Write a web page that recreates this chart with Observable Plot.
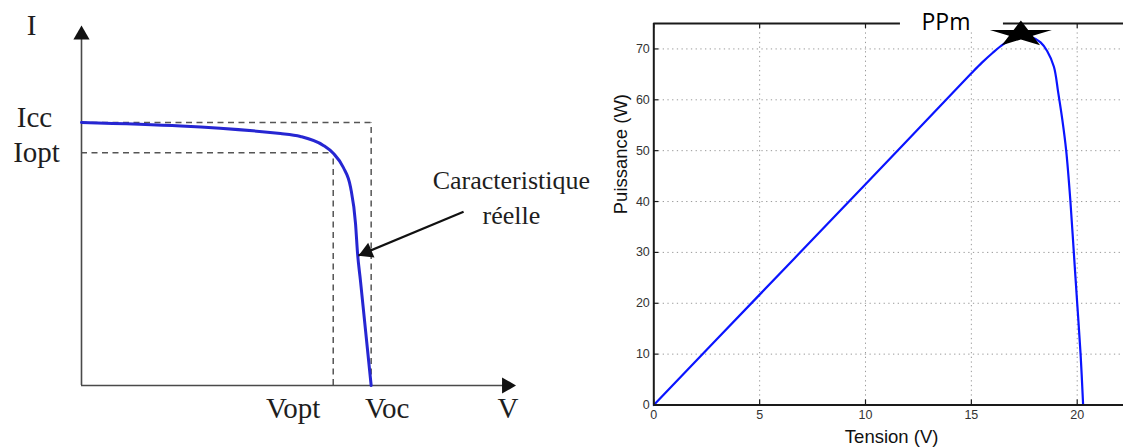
<!DOCTYPE html>
<html><head><meta charset="utf-8">
<script src="https://cdn.jsdelivr.net/npm/d3@7"></script>
<script src="https://cdn.jsdelivr.net/npm/@observablehq/plot@0.6"></script>
<style>
html,body{margin:0;padding:0;background:#fff;overflow:hidden}
#wrap{position:relative;width:1123px;height:447px;overflow:hidden;background:#fff}
#left{position:absolute;left:0;top:0}
#right{position:absolute;left:600px;top:0}
</style></head><body><div id="wrap"><div id="left"></div><div id="right"></div></div>
<script>
// ---------- Left panel: schematic I-V characteristic (normalised: Voc = 1, Icc = 1)
const ivV = [0, 0.687, 0.756, 0.835, 0.870, 0.904, 0.929, 0.946, 0.953, 0.963, 1.0];
const ivI = [1.0, 0.958, 0.947, 0.913, 0.882, 0.829, 0.753, 0.616, 0.502, 0.399, 0];
const Voc = 1, Icc = 1, Vopt = 0.869, Iopt = 0.885;
const vAxisMax = 1.5, iAxisMax = 1.369;
const annotationText = "Caracteristique\nréelle";
const annotation = {text: annotationText, x: 1.484, y: 0.724, tailX: 1.319, tailY: 0.661, tipX: 0.956, tipY: 0.494};

// ---------- Right panel: P-V curve
const tension   = [0, 5, 10, 15, 15.5, 16, 16.5, 17, 17.4, 17.8, 18.27, 18.58, 18.9, 19.1, 19.3, 19.48, 19.68, 19.84, 20.0, 20.16, 20.28];
const puissance = [0, 21.7, 43.4, 65.2, 67.3, 69.2, 70.9, 72.1, 72.6, 72.4, 71.3, 69.6, 66.5, 61.5, 56, 50, 40, 30, 20, 10, 0];
const xTicks = [0, 5, 10, 15, 20];
const yTicks = [0, 10, 20, 30, 40, 50, 60, 70];
const ppm = {label: "PPm", v: 17.34, p: 72.9, labelV: 13.8};
const xLabel = "Tension (V)", yLabel = "Puissance (W)";

// ---------------- left plot
const ivData = ivV.map((v, k) => ({v, i: ivI[k]}));
const serif = "'Liberation Serif', 'Times New Roman', serif";
const txt = "#1e1e1e";
const dash = {stroke: "#555", strokeDasharray: "6,4.5", strokeWidth: 1.5};
const lblSize = 29;

const left = Plot.plot({
  width: 600, height: 447,
  marginLeft: 81, marginRight: 84.5, marginTop: 25, marginBottom: 62,
  x: {domain: [0, vAxisMax], axis: null},
  y: {domain: [0, iAxisMax], axis: null},
  style: {background: "white", overflow: "visible"},
  marks: [
    Plot.ruleY([Icc], {x1: 0, x2: Voc, ...dash}),
    Plot.ruleY([Iopt], {x1: 0, x2: Vopt, ...dash}),
    Plot.ruleX([Vopt], {y1: 0, y2: Iopt, ...dash}),
    Plot.ruleX([Voc], {y1: 0, y2: Icc, ...dash}),
    Plot.ruleX([0], {y1: 0, y2: iAxisMax * 0.97, stroke: "#4a4a4a", strokeWidth: 1.6}),
    Plot.ruleY([0], {x1: 0, x2: vAxisMax * 0.98, stroke: "#4a4a4a", strokeWidth: 1.6}),
    Plot.dot([{v: 0, i: iAxisMax}], {x: "v", y: "i", symbol: "triangle", r: 6, fill: "#111", stroke: "none", dy: 9.3}),
    Plot.dot([{v: vAxisMax, i: 0}], {x: "v", y: "i", symbol: "triangle", r: 6, fill: "#111", stroke: "none", rotate: 90, dx: -9.3}),
    Plot.line(ivData, {x: "v", y: "i", stroke: "#2626d2", strokeWidth: 3, curve: "monotone-x"}),
    Plot.link([annotation], {x1: "tailX", y1: "tailY", x2: "tipX", y2: "tipY", stroke: "#111", strokeWidth: 2.2}),
    Plot.dot([annotation], {x: "tipX", y: "tipY", symbol: "triangle", r: 6, fill: "#111", stroke: "none", rotate: -113, dx: 8.6, dy: -3.6}),
    Plot.text([annotation], {x: "x", y: "y", text: "text", fontFamily: serif, fontSize: 26, fill: txt, lineHeight: 1.35}),
    Plot.text(["I"], {x: 0, y: iAxisMax, text: d => d, dx: -50, fontFamily: serif, fontSize: lblSize, fill: txt}),
    Plot.text(["Icc"], {x: 0, y: Icc, text: d => d, dx: -47, dy: -5, fontFamily: serif, fontSize: lblSize, fill: txt}),
    Plot.text(["Iopt"], {x: 0, y: Iopt, text: d => d, dx: -45, fontFamily: serif, fontSize: lblSize, fill: txt}),
    Plot.text(["Vopt"], {x: Vopt, y: 0, text: d => d, dx: -40, dy: 23, fontFamily: serif, fontSize: lblSize, fill: txt}),
    Plot.text(["Voc"], {x: Voc, y: 0, text: d => d, dx: 16, dy: 23, fontFamily: serif, fontSize: lblSize, fill: txt}),
    Plot.text(["V"], {x: vAxisMax, y: 0, text: d => d, dx: -8, dy: 23, fontFamily: serif, fontSize: lblSize, fill: txt})
  ]
});
document.getElementById("left").appendChild(left);

// ---------------- right plot
const pvData = tension.map((v, k) => ({v, p: puissance[k]}));
const W = 523, H = 447, mL = 53.3, mR = 0, mT = 23, mB = 42.5;
const fw = W - mL - mR, fh = H - mT - mB;
const xMax = fw / 21.17;
const frameStyle = {stroke: "#1a1a1a", strokeWidth: 2};
const tickStyle = {stroke: "#1a1a1a", strokeWidth: 1.2};
const grid = {stroke: "#9a9a9a", strokeOpacity: 1, strokeWidth: 1, strokeDasharray: "1.3,3.4"};
const sans = "'Liberation Sans', Arial, Helvetica, sans-serif";

const flatStar = {
  draw(ctx, size) {
    const R = Math.sqrt(size);
    for (let k = 0; k < 10; k++) {
      const a = -Math.PI / 2 + k * Math.PI / 5;
      const rad = k % 2 === 0 ? R : R * 0.382;
      const x = rad * Math.cos(a), y = rad * Math.sin(a) * 0.42;
      if (k === 0) ctx.moveTo(x, y); else ctx.lineTo(x, y);
    }
    ctx.closePath();
  }
};

const right = Plot.plot({
  width: W, height: H,
  marginLeft: mL, marginRight: mR, marginTop: mT, marginBottom: mB,
  x: {domain: [0, xMax]},
  y: {domain: [0, 75]},
  style: {background: "white", overflow: "visible", fontFamily: sans},
  marks: [
    Plot.gridX(xTicks.filter(d => d > 0), grid),
    Plot.gridY(yTicks.filter(d => d > 0), grid),
    Plot.line(pvData, {x: "v", y: "p", stroke: "#0a14ff", strokeWidth: 2.2, curve: "catmull-rom"}),
    Plot.ruleX([0], frameStyle),
    Plot.ruleY([0], frameStyle),
    Plot.ruleY([75], frameStyle),
    Plot.ruleX(xTicks, {...tickStyle, insetTop: fh - 5}),
    Plot.ruleX(xTicks, {...tickStyle, insetBottom: fh - 5}),
    Plot.ruleY(yTicks, {...tickStyle, insetRight: fw - 5}),
    Plot.axisX(xTicks, {anchor: "bottom", tickSize: 0, tickPadding: 5, label: null, color: "#333", fontSize: 12.5}),
    Plot.axisY(yTicks, {anchor: "left", tickSize: 0, tickPadding: 4, label: null, color: "#333", fontSize: 12.5}),
    Plot.rect([ppm], {x1: "labelV", x2: "labelV", y1: () => 75, y2: () => 75, insetLeft: -45.5, insetRight: -57.5, insetTop: -4, insetBottom: -7, fill: "white"}),
    Plot.text([ppm], {x: "labelV", y: () => 75, text: "label", dy: -1, fontSize: 23, fontFamily: "'Open Sans', sans-serif", fill: "#000"}),
    Plot.dot([ppm], {x: "v", y: "p", symbol: flatStar, r: 18.4, fill: "#000", stroke: "none"}),
    Plot.text([xLabel], {frameAnchor: "bottom", text: d => d, dx: 3, dy: 38, fontSize: 18.5, fill: "#111"}),
    Plot.text([yLabel], {frameAnchor: "left", text: d => d, rotate: -90, dx: -33, fontSize: 18.5, fill: "#111"})
  ]
});
document.getElementById("right").appendChild(right);
</script>
</body></html>
